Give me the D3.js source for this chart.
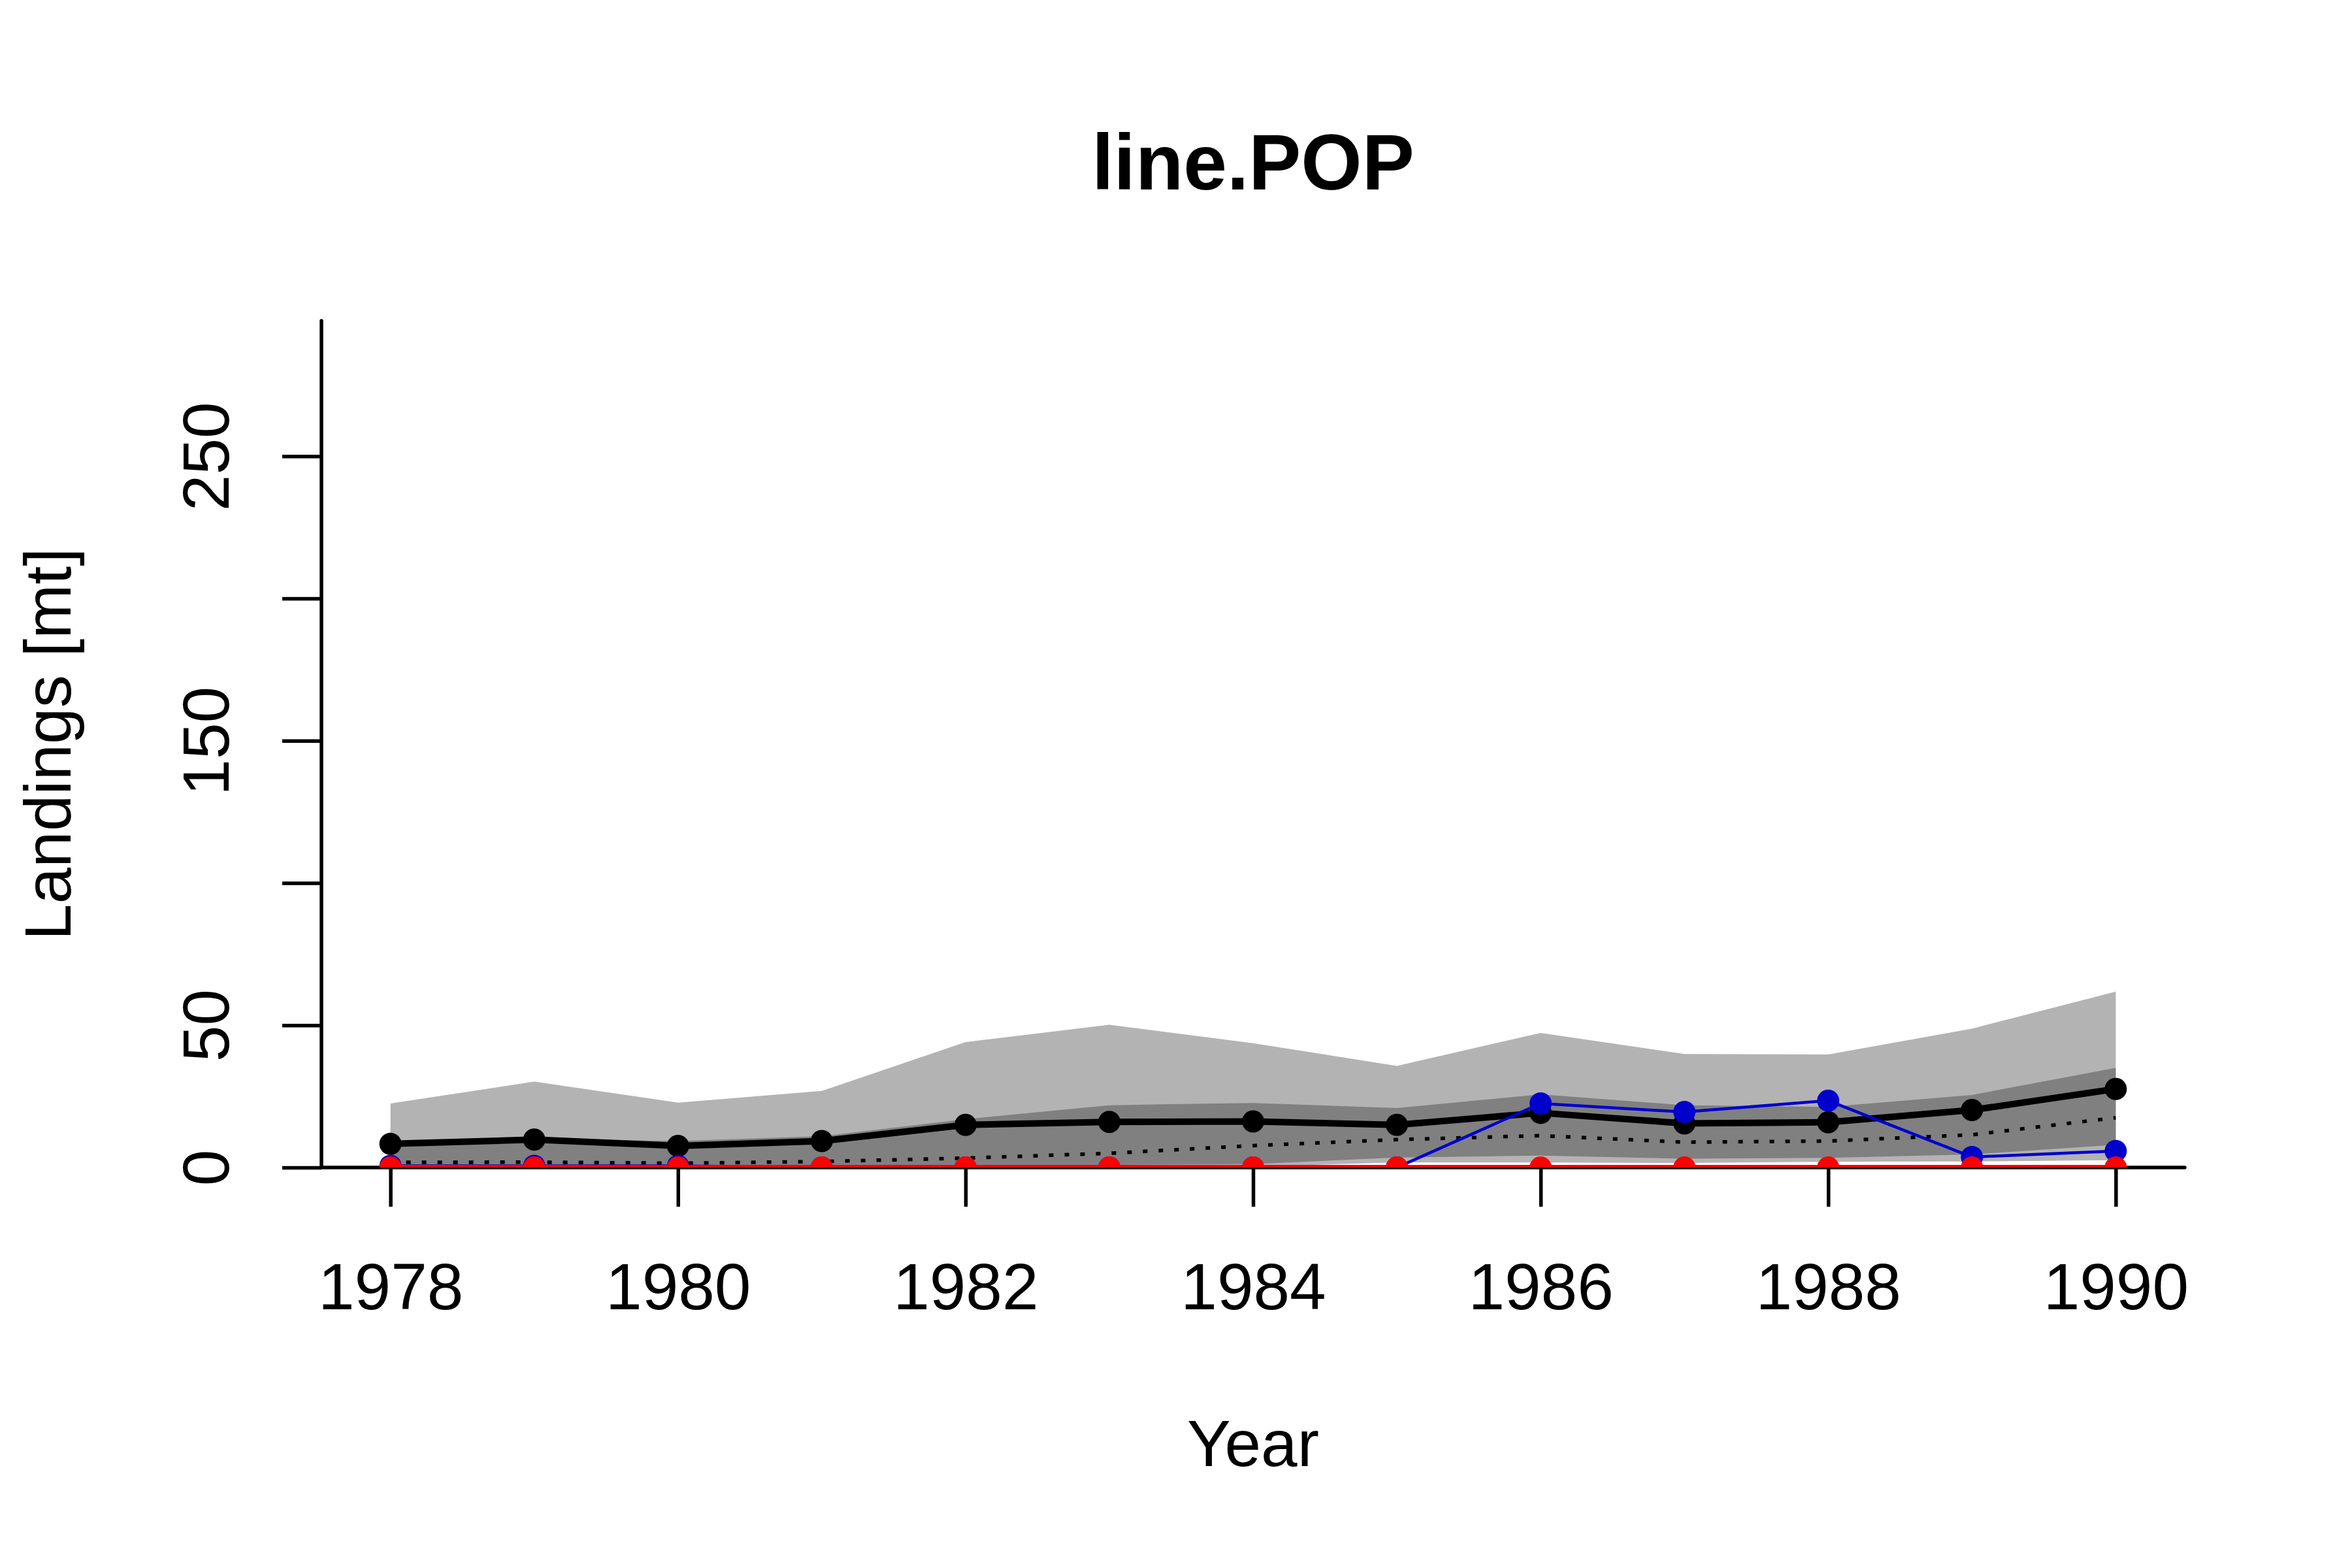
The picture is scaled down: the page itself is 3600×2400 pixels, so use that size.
<!DOCTYPE html>
<html>
<head>
<meta charset="utf-8">
<script src="https://cdn.jsdelivr.net/npm/d3@7"></script>
<style>
  html, body { margin: 0; padding: 0; background: #ffffff; }
  svg { display: block; }
  text { font-family: "Liberation Sans", Arial, sans-serif; fill: #000; }
</style>
</head>
<body>
<script>
// ---- data ----
const years       = [1978, 1979, 1980, 1981, 1982, 1983, 1984, 1985, 1986, 1987, 1988, 1989, 1990];
const outerUpper  = [22.5, 30.2, 22.8, 26.9, 44.1, 50.2, 43.7, 35.7, 47.3, 39.9, 39.7, 48.8, 61.8];
const innerUpper  = [9.0, 10.2, 9.3, 11.0, 17.0, 21.9, 22.7, 20.9, 25.7, 21.9, 21.3, 25.5, 35.0];
const innerLower  = [0.4, 0.4, 0.4, 0.5, 0.7, 0.9, 1.2, 3.5, 4.2, 3.1, 3.4, 4.6, 8.0];
const outerLower  = [0, 0, 0, 0, 0, 0.1, 0.3, 1.8, 1.8, 1.6, 2.0, 2.1, 2.6];
const medianSeries = [1.8, 1.9, 1.5, 2.1, 3.3, 5.0, 7.7, 9.8, 11.2, 8.9, 9.3, 11.5, 17.5];
const meanSeries  = [8.3, 9.8, 7.6, 9.3, 15.0, 16.0, 16.2, 15.0, 19.2, 15.5, 15.9, 20.2, 27.6];
const blueSeries  = [0.6, 0.6, 0.6, 0, 0, 0, 0, 0, 22.5, 19.5, 23.5, 3.7, 5.8];
const redSeries   = [0, 0, 0, 0, 0, 0, 0, 0, 0, 0, 0, 0, 0];
const xTicks      = [1978, 1980, 1982, 1984, 1986, 1988, 1990];
const yTicks      = [0, 50, 100, 150, 200, 250];
const yTickLabels = ["0", "50", "", "150", "", "250"];
const titleText   = "line.POP";
const xLabel      = "Year";
const yLabel      = "Landings [mt]";

// ---- layout ----
const W = 3600, H = 2400;
const L = 492, R = 3344, T = 491, B = 1787;

const svg = d3.select("body").append("svg").attr("width", W).attr("height", H);
svg.append("rect").attr("width", W).attr("height", H).attr("fill", "#fff");

const x = d3.scaleLinear().domain([1977.52, 1990.48]).range([L, R]);
const y = d3.scaleLinear().domain([0, 297.6]).range([B, T]);

// ---- axes (drawn first, content goes on top) ----
const xAxis = svg.append("g").attr("transform", `translate(0,${B})`)
  .call(d3.axisBottom(x).tickValues(xTicks).tickFormat(d3.format("d")).tickSize(60));
xAxis.select(".domain").remove();
xAxis.selectAll(".tick line").attr("stroke", "#000").attr("stroke-width", 5.5);
xAxis.selectAll(".tick text").attr("y", 2004 - B).attr("dy", 0)
  .attr("font-size", 100).attr("font-family", "Liberation Sans, Arial, sans-serif").attr("fill", "#000");

const yAxis = svg.append("g").attr("transform", `translate(${L},0)`)
  .call(d3.axisLeft(y).tickValues(yTicks).tickFormat((d, i) => yTickLabels[i]).tickSize(60));
yAxis.select(".domain").remove();
yAxis.selectAll(".tick line").attr("stroke", "#000").attr("stroke-width", 5.5);
yAxis.selectAll(".tick text")
  .attr("x", 0).attr("y", -(L - 350)).attr("dy", 0)
  .attr("transform", "rotate(-90)")
  .attr("text-anchor", "middle")
  .attr("font-size", 100).attr("font-family", "Liberation Sans, Arial, sans-serif").attr("fill", "#000");

// box "L"
svg.append("path")
  .attr("d", `M${L},${T}V${B}H${R}`)
  .attr("fill", "none").attr("stroke", "#000").attr("stroke-width", 5.5)
  .attr("stroke-linecap", "round").attr("stroke-linejoin", "round");

// ---- plot content ----
svg.append("defs").append("clipPath").attr("id", "clip")
  .append("rect").attr("x", L).attr("y", T).attr("width", R - L).attr("height", B - T);

const g = svg.append("g").attr("clip-path", "url(#clip)");

const idx = d3.range(years.length);
const band = (lo, hi) => d3.area().x(i => x(years[i])).y0(i => y(lo[i])).y1(i => y(hi[i]));
const line = (arr) => d3.line().x(i => x(years[i])).y(i => y(arr[i]));

g.append("path").attr("d", band(outerLower, outerUpper)(idx)).attr("fill", "#B3B3B3");
g.append("path").attr("d", band(innerLower, innerUpper)(idx)).attr("fill", "#808080");

g.append("path").attr("d", line(medianSeries)(idx)).attr("fill", "none")
  .attr("stroke", "#000").attr("stroke-width", 5.5).attr("stroke-dasharray", "7 17");

function series(arr, color, lw) {
  g.append("path").attr("d", line(arr)(idx)).attr("fill", "none")
    .attr("stroke", color).attr("stroke-width", lw).attr("stroke-linejoin", "round");
  g.selectAll(null).data(idx).enter().append("circle")
    .attr("cx", i => x(years[i])).attr("cy", i => y(arr[i])).attr("r", 17).attr("fill", color);
}
series(meanSeries, "#000000", 10);
series(blueSeries, "#0000CD", 4.5);
series(redSeries, "#FF0000", 8);

// ---- titles ----
svg.append("text").attr("x", (L + R) / 2).attr("y", 290).attr("text-anchor", "middle")
  .attr("font-size", 120).attr("font-weight", "bold").text(titleText);
svg.append("text").attr("x", (L + R) / 2).attr("y", 2244).attr("text-anchor", "middle")
  .attr("font-size", 100).text(xLabel);
svg.append("text").attr("transform", `translate(108,${(T + B) / 2}) rotate(-90)`)
  .attr("text-anchor", "middle").attr("font-size", 100).text(yLabel);
</script>
</body>
</html>
